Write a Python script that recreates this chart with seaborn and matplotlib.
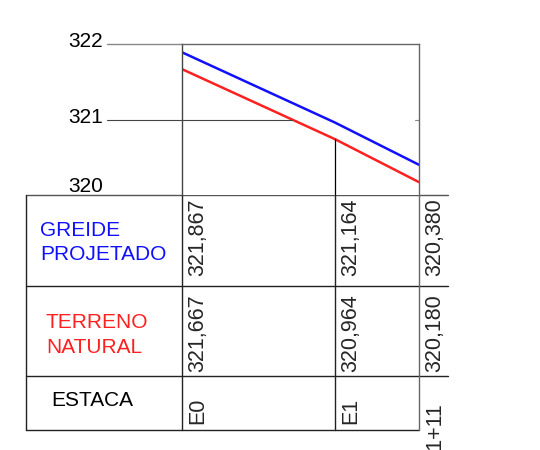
import numpy as np
import pandas as pd
import seaborn as sns
import matplotlib.pyplot as plt
import matplotlib.transforms as mtransforms

# dados do perfil
estacas = ["E0", "E1", "E1+11"]
dist = [0, 20, 31]  # distancia (m)
greide_txt = ["321,867", "321,164", "320,380"]
terreno_txt = ["321,667", "320,964", "320,180"]
# cotas como aparecem desenhadas no perfil
greide = [321.89, 320.96, 320.40]
terreno = [321.667, 320.74, 320.17]
cotas_eixo = [320, 321, 322]

df = pd.DataFrame({"dist": dist * 2,
                   "cota": greide + terreno,
                   "serie": ["GREIDE PROJETADO"] * 3 + ["TERRENO NATURAL"] * 3})

sns.set_style("white")
plt.rcParams["font.family"] = ["Liberation Sans", "DejaVu Sans"]

W, H = 540, 450
fig = plt.figure(figsize=(W / 100, H / 100), dpi=100)

# overlay em pixels para a tabela
tab = fig.add_axes([0, 0, 1, 1])
tab.set_xlim(0, W)
tab.set_ylim(H, 0)
tab.axis("off")

x0, x1, ytop, ybot = 182, 419, 44, 195
ax = fig.add_axes([x0 / W, 1 - ybot / H, (x1 - x0) / W, (ybot - ytop) / H])
sns.lineplot(data=df, x="dist", y="cota", hue="serie",
             palette=["#1010ff", "#ff2020"], lw=1.8, legend=False, ax=ax)
ax.set_xlim(0, 31)
ax.set_ylim(320, 322)
ax.set_xticks([])
ax.set_yticks([])
ax.set_xlabel("")
ax.set_ylabel("")
for s in ["top", "right"]:
    ax.spines[s].set_color("#666")
    ax.spines[s].set_linewidth(1)
ax.spines["left"].set_color("#444")
ax.spines["left"].set_linewidth(1)
ax.spines["bottom"].set_visible(False)

# linhas de cota a esquerda
ytr = ax.get_yaxis_transform()
ax.plot([-75 / 237, 0], [322, 322], color="#888", lw=1, transform=ytr, clip_on=False)
xcross = np.interp(321, terreno[::-1], dist[::-1])
ax.plot([-75 / 237, xcross / 31], [321, 321], color="#444", lw=0.8, transform=ytr, clip_on=False)
ax.plot([0.985, 1.0], [321, 321], color="#888", lw=0.8, transform=ytr, clip_on=False)
desloc = {320: 0.04, 321: -0.04, 322: -0.04}
for c in cotas_eixo:
    ax.text(-79 / 237, c + desloc[c], str(c), transform=ytr, ha="right", va="baseline",
            fontsize=15, color="black")

# vertical na estaca intermediaria
ax.plot([dist[1], dist[1]], [320, terreno[1]], color="black", lw=0.9)

# tabela
blend = mtransforms.blended_transform_factory(ax.transData, tab.transData)
rows = [195, 286, 376, 430]
lc = "#222"
tab.plot([26, 448], [rows[0], rows[0]], color="#555", lw=1)
tab.plot([26, 448], [rows[1], rows[1]], color=lc, lw=1)
tab.plot([26, 448], [rows[2], rows[2]], color=lc, lw=1)
tab.plot([26, 419], [rows[3], rows[3]], color=lc, lw=1)
tab.plot([26, 26], [rows[0], rows[3]], color=lc, lw=1)
tab.plot([dist[0], dist[0]], [rows[0], rows[3]], color=lc, lw=1, transform=blend)
tab.plot([dist[1], dist[1]], [rows[0], rows[3]], color=lc, lw=1, transform=blend)
tab.plot([dist[2], dist[2]], [rows[0], rows[3]], color="#666", lw=1, transform=blend)

fs = 15
tab.text(40, 236, "GREIDE", color="#1010ff", fontsize=fs, va="baseline")
tab.text(40, 260, "PROJETADO", color="#1010ff", fontsize=fs, va="baseline")
tab.text(46, 328, "TERRENO", color="#ff2020", fontsize=fs, va="baseline")
tab.text(46, 353, "NATURAL", color="#ff2020", fontsize=fs, va="baseline")
tab.text(51, 406, "ESTACA", color="black", fontsize=fs, va="baseline")

dx = 0.7
fn = 15.5
for d, g, t, e in zip(dist, greide_txt, terreno_txt, estacas):
    tab.text(d + dx, 276, g, rotation=90, ha="left", va="bottom", fontsize=fn, transform=blend)
    tab.text(d + dx, 372, t, rotation=90, ha="left", va="bottom", fontsize=fn, transform=blend)
    if e == "E1+11":
        tab.text(d + dx, 402, e, rotation=90, ha="left", va="top", fontsize=fn, transform=blend)
    else:
        tab.text(d + dx, 424, e, rotation=90, ha="left", va="bottom", fontsize=fn, transform=blend)

fig.savefig("out.png", dpi=100)
